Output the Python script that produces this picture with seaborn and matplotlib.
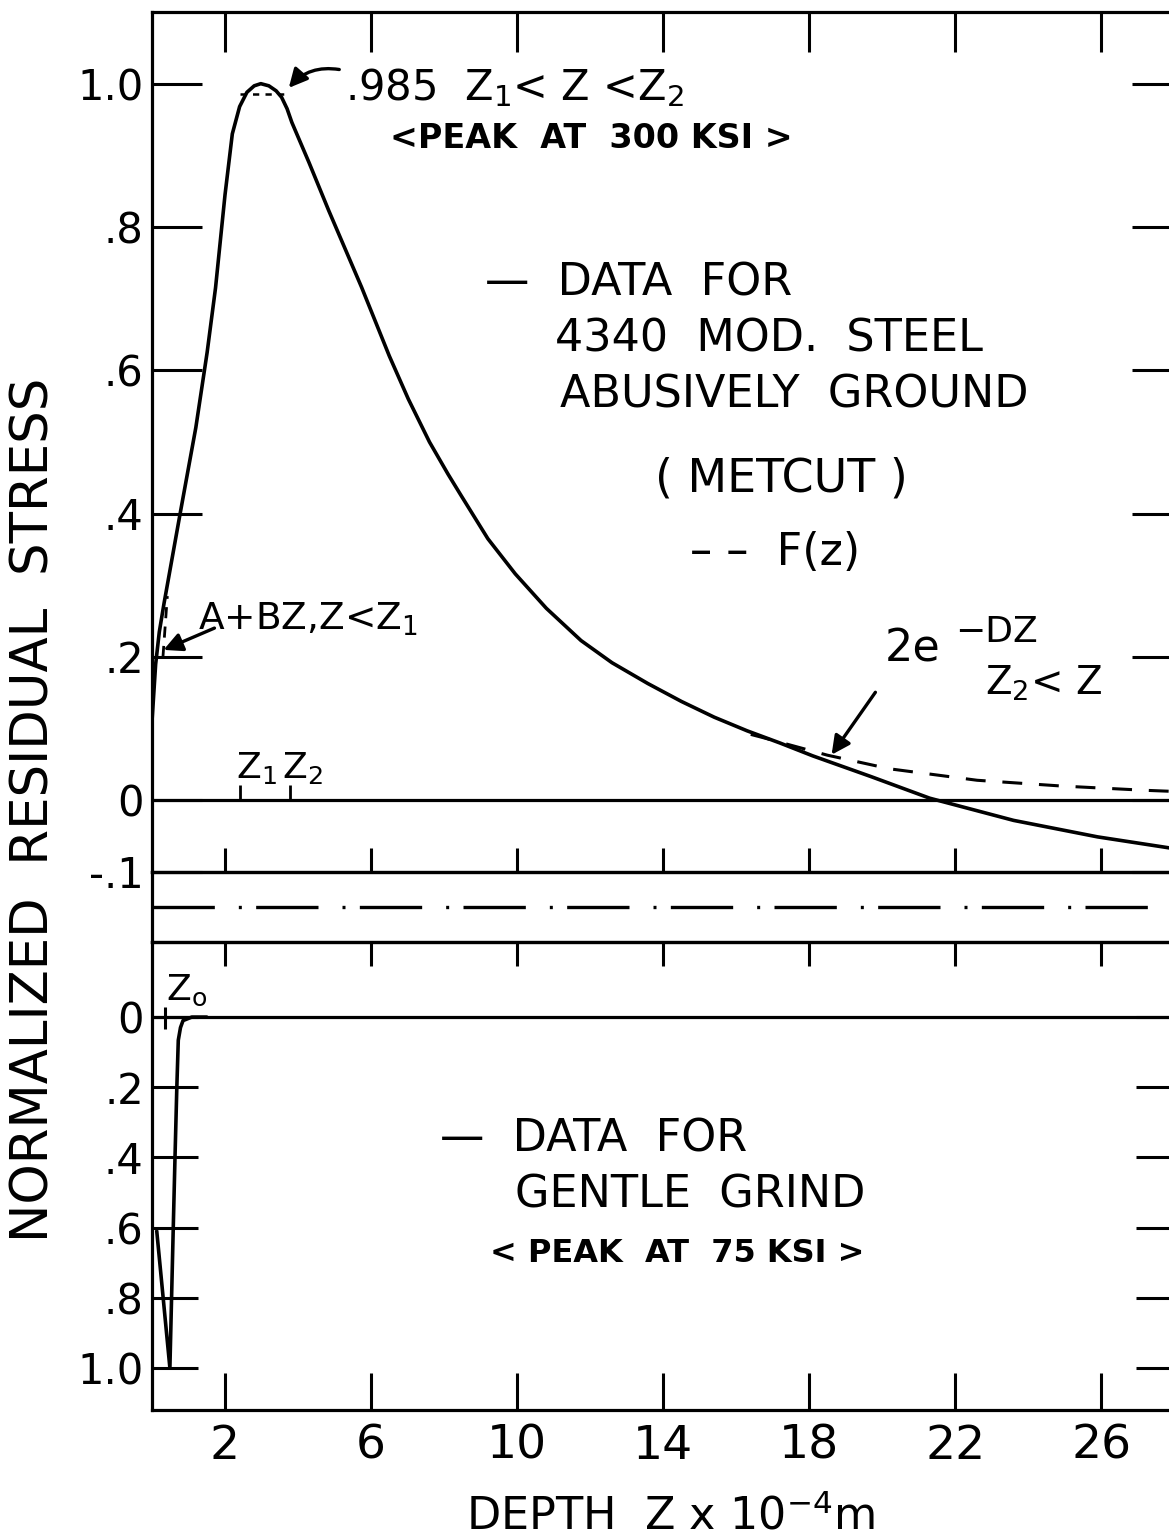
import matplotlib
matplotlib.use("Agg")
import matplotlib.pyplot as plt
import numpy as np
import pandas as pd
import seaborn as sns

# ---------------- data ----------------
abusive_z = [0.0, 0.1, 0.2, 0.33, 0.77, 1.2, 1.51, 1.74, 2.0, 2.2, 2.4, 2.6, 2.8, 2.98,
             3.2, 3.4, 3.55, 3.7, 3.83, 4.3, 4.84, 5.74, 6.5, 7.02, 7.6, 8.11, 8.47,
             9.2, 9.95, 10.8, 11.75, 12.6, 13.58, 14.5, 15.4, 16.3, 17.2, 18.1, 19.7,
             21.3, 23.6, 25.9, 28.2]
abusive_s = [0.11, 0.19, 0.235, 0.275, 0.40, 0.52, 0.625, 0.715, 0.845, 0.93, 0.968,
             0.988, 0.997, 1.0, 0.997, 0.99, 0.981, 0.965, 0.946, 0.89, 0.823, 0.716,
             0.62, 0.56, 0.50, 0.455, 0.425, 0.365, 0.316, 0.268, 0.223, 0.192, 0.163,
             0.138, 0.116, 0.097, 0.080, 0.062, 0.033, 0.003, -0.028, -0.051, -0.069]

fz_tail_z = [16.4, 16.7, 18.5, 20.2, 22.6, 24.9, 27.2, 28.2]
fz_tail_s = [0.092, 0.088, 0.063, 0.044, 0.028, 0.020, 0.014, 0.012]

abz_z = [0.30, 0.42]
abz_s = [0.20, 0.285]

z1, z2 = 2.41, 3.78
plateau_value = 0.985
z0 = 0.36

gentle_z = [0.13, 0.49, 0.58, 0.63, 0.68, 0.72, 0.78, 0.85, 1.09, 1.5]
gentle_s = [0.61, 1.0, 0.61, 0.40, 0.20, 0.066, 0.03, 0.01, 0.0, 0.0]

x_ticks = [2, 6, 10, 14, 18, 22, 26]
top_yticks = [-0.1, 0, 0.2, 0.4, 0.6, 0.8, 1.0]
top_ylabels = ["-.1", "0", ".2", ".4", ".6", ".8", "1.0"]
bot_yticks = [0, 0.2, 0.4, 0.6, 0.8, 1.0]
bot_ylabels = ["0", ".2", ".4", ".6", ".8", "1.0"]

# ---------------- style ----------------
sns.set_theme(style="ticks")
plt.rcParams["font.family"] = ["DejaVu Sans"]
plt.rcParams["mathtext.fontset"] = "dejavusans"
plt.rcParams["mathtext.default"] = "regular"
plt.rcParams["axes.linewidth"] = 2.3
plt.rcParams["axes.edgecolor"] = "black"
plt.rcParams["text.color"] = "black"
plt.rcParams["axes.labelcolor"] = "black"
plt.rcParams["xtick.color"] = "black"
plt.rcParams["ytick.color"] = "black"
plt.rcParams["xtick.labelcolor"] = "black"
plt.rcParams["ytick.labelcolor"] = "black"

W, H = 1169, 1537
fig = plt.figure(figsize=(W / 100, H / 100), dpi=100)
fig.patch.set_facecolor("white")

xmax = 28.2
left = 152 / W
width = xmax * 36.51 / W

ax_top = fig.add_axes([left, 1 - 872 / H, width, 860 / H])
ax_band = fig.add_axes([left, 1 - 942 / H, width, 70 / H])
ax_bot = fig.add_axes([left, 1 - 1410 / H, width, 468 / H])
for ax in (ax_top, ax_band, ax_bot):
    ax.set_facecolor("none")
    ax.set_xlim(0, xmax)
    for s in ax.spines.values():
        s.set_linewidth(2.3)
        s.set_color("black")

lw = 2.6
# ---- top panel
df_ab = pd.DataFrame({"z": abusive_z, "s": abusive_s})
sns.lineplot(data=df_ab, x="z", y="s", ax=ax_top, color="black", lw=lw,
             sort=False, estimator=None)
df_tail = pd.DataFrame({"z": fz_tail_z, "s": fz_tail_s})
sns.lineplot(data=df_tail, x="z", y="s", ax=ax_top, color="black", lw=2.2,
             sort=False, estimator=None)
ax_top.lines[-1].set_linestyle((0, (6.5, 5.5)))
df_pl = pd.DataFrame({"z": [z1, z2], "s": [plateau_value, plateau_value]})
sns.lineplot(data=df_pl, x="z", y="s", ax=ax_top, color="black", lw=1.8,
             sort=False, estimator=None)
ax_top.lines[-1].set_linestyle((0, (2.5, 2.5)))
df_abz = pd.DataFrame({"z": abz_z, "s": abz_s})
sns.lineplot(data=df_abz, x="z", y="s", ax=ax_top, color="black", lw=2.0,
             sort=False, estimator=None)
ax_top.lines[-1].set_linestyle((0, (4, 3)))
ax_top.axhline(0, color="black", lw=2.3)
ax_top.vlines([z1, z2], 0, 0.022, color="black", lw=2.0)

ax_top.set_ylim(-0.1, 1.1)
ax_top.set_yticks(top_yticks)
ax_top.set_yticklabels(top_ylabels)
ax_top.set_xticks(x_ticks)
ax_top.tick_params(axis="y", direction="in", length=36, width=2.2, left=True,
                   right=True, labelsize=30, pad=6, colors="black")
ax_top.tick_params(axis="x", direction="in", length=29, width=2.2, top=True,
                   bottom=False, labelbottom=False, labeltop=False)
ax_top.set_xlabel("")
ax_top.set_ylabel("")

# ---- band
ax_band.set_ylim(0, 1)
ax_band.axhline(0.5, color="black", lw=2.4, linestyle=(0, (18.7, 7.2, 0.9, 4.3)))
ax_band.set_xticks(x_ticks)
ax_band.tick_params(axis="x", direction="out", length=17, width=2.2, top=True,
                    bottom=True, labelbottom=False, labeltop=False)
ax_band.tick_params(axis="y", left=False, right=False, labelleft=False)

# ---- bottom panel
df_g = pd.DataFrame({"z": gentle_z, "s": gentle_s})
sns.lineplot(data=df_g, x="z", y="s", ax=ax_bot, color="black", lw=lw,
             sort=False, estimator=None)
ax_bot.axhline(0, color="black", lw=2.3)
ax_bot.vlines([z0], -0.03, 0.035, color="black", lw=2.2)
ax_bot.set_ylim(1.12, -0.214)
ax_bot.set_yticks(bot_yticks)
ax_bot.set_yticklabels(bot_ylabels)
ax_bot.set_xticks(x_ticks)
ax_bot.set_xticklabels([str(t) for t in x_ticks])
ax_bot.tick_params(axis="x", direction="in", length=27, width=2.2, top=False,
                   bottom=True, labelsize=34, pad=10, colors="black")
ax_bot.tick_params(axis="y", direction="in", length=33, width=2.2, left=True,
                   right=True, labelsize=30, pad=6, colors="black")
ax_bot.set_xlabel("")
ax_bot.set_ylabel("")


# ---------------- annotation text ----------------
def ftext(px, py, s, **kw):
    kw.setdefault("va", "baseline")
    kw.setdefault("ha", "left")
    kw.setdefault("color", "black")
    fig.text(px / W, 1 - py / H, s, **kw)


def farrow(p_from, p_to, rad=0.0):
    ax_top.annotate("", xy=(p_to[0] / W, 1 - p_to[1] / H), xycoords="figure fraction",
                    xytext=(p_from[0] / W, 1 - p_from[1] / H), textcoords="figure fraction",
                    arrowprops=dict(arrowstyle="-|>", color="black", lw=2.4,
                                    mutation_scale=28,
                                    connectionstyle=f"arc3,rad={rad}"))


ftext(345, 100, r".985  Z$_1$< Z <Z$_2$", fontsize=30)
ftext(390, 148, "<PEAK  AT  300 KSI >", fontsize=24, fontweight="bold")
ftext(485, 295, "—  DATA  FOR", fontsize=32)
ftext(555, 352, "4340  MOD.  STEEL", fontsize=32)
ftext(560, 408, "ABUSIVELY  GROUND", fontsize=32)
ftext(655, 492, "( METCUT )", fontsize=33)
ftext(690, 565, "– –  F(z)", fontsize=32)
ftext(198, 630, r"A+BZ,Z<Z$_1$", fontsize=27)
ftext(885, 662, "2e", fontsize=32)
ftext(955, 642, "−DZ", fontsize=26)
ftext(985, 695, r"Z$_2$< Z", fontsize=28)
ftext(236, 778, r"Z$_1$", fontsize=26)
ftext(282, 778, r"Z$_2$", fontsize=26)
ftext(166, 1000, r"Z$_o$", fontsize=26)
ftext(440, 1152, "—  DATA  FOR", fontsize=32)
ftext(515, 1208, "GENTLE  GRIND", fontsize=32)
ftext(490, 1262, "< PEAK  AT  75 KSI >", fontsize=23, fontweight="bold")

farrow((342, 70), (287, 90), rad=0.3)
farrow((217, 627), (161, 651))
farrow((877, 690), (830, 757))

fig.text(670 / W, 1 - 1530 / H, r"DEPTH  Z x 10$^{-4}$m", fontsize=32,
         ha="center", va="baseline")
fig.text(35 / W, 1 - 810 / H, "NORMALIZED  RESIDUAL  STRESS", fontsize=37,
         rotation=90, ha="center", va="center")

fig.savefig("out.png", dpi=100, facecolor="white")
